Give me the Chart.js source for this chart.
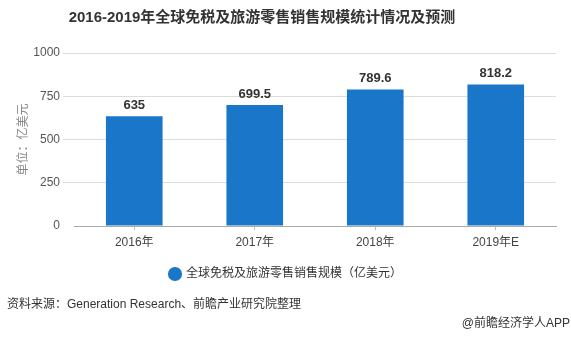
<!DOCTYPE html>
<html>
<head>
<meta charset="utf-8">
<script src="https://cdn.jsdelivr.net/npm/chart.js@4.4.1/dist/chart.umd.min.js"></script>
<style>
  html, body { margin: 0; padding: 0; background: #fff; }
  #wrap { position: relative; width: 571px; height: 337px; }
</style>
</head>
<body>
<div id="wrap"><canvas id="chart" width="571" height="337"></canvas></div>
<script>
// Chart data
const years = ['2016年', '2017年', '2018年', '2019年E'];
const salesValues = [635, 699.5, 789.6, 818.2];
const yTicks = [0, 250, 500, 750, 1000];

const seriesName = '全球免税及旅游零售销售规模（亿美元）';
const chartTitle = '2016-2019年全球免税及旅游零售销售规模统计情况及预测';
const sourceNote = '资料来源：Generation Research、前瞻产业研究院整理';
const brandNote = '@前瞻经济学人APP';

const FONT = '"Liberation Sans", "Noto Sans CJK SC", sans-serif';
const BAR_BLUE = '#1976c8';

// Draws title, bar value labels and footer notes
const decorPlugin = {
  id: 'decor',
  afterDraw(chart) {
    const ctx = chart.ctx;
    ctx.save();
    ctx.fillStyle = '#333';
    ctx.textBaseline = 'middle';

    ctx.font = 'bold 15px ' + FONT;
    ctx.textAlign = 'center';
    ctx.fillText(chartTitle, 262, 18);

    const meta = chart.getDatasetMeta(0);
    ctx.font = 'bold 13px ' + FONT;
    meta.data.forEach((bar, i) => {
      ctx.fillText(String(salesValues[i]), bar.x, bar.y - 11);
    });

    ctx.font = '12px ' + FONT;
    ctx.textAlign = 'left';
    ctx.fillText(sourceNote, 7, 305);
    ctx.textAlign = 'right';
    ctx.fillText(brandNote, 570, 324);
    ctx.restore();
  }
};

new Chart(document.getElementById('chart'), {
  type: 'bar',
  data: {
    labels: years,
    datasets: [{
      label: seriesName,
      data: salesValues,
      backgroundColor: BAR_BLUE,
      barPercentage: 0.47,
      categoryPercentage: 1.0
    }]
  },
  options: {
    responsive: false,
    animation: false,
    layout: { padding: { top: 53, left: 16, right: 15, bottom: 47 } },
    plugins: {
      legend: {
        position: 'bottom',
        labels: {
          usePointStyle: true,
          pointStyle: 'circle',
          boxWidth: 10,
          boxHeight: 10,
          padding: 10,
          color: '#333',
          font: { family: FONT, size: 12 }
        }
      },
      tooltip: { enabled: false },
      title: { display: false }
    },
    scales: {
      x: {
        grid: {
          offset: false,
          drawOnChartArea: false,
          tickLength: 4,
          color: '#bbb'
        },
        border: { color: '#aaa' },
        ticks: {
          color: '#444',
          padding: 5,
          font: { family: FONT, size: 12 }
        },
        afterFit(scale) { scale.height = 32; }
      },
      y: {
        min: 0,
        max: 1000,
        afterBuildTicks(scale) {
          scale.ticks = yTicks.map(v => ({ value: v }));
        },
        grid: {
          color: ctx => ctx.tick && ctx.tick.value === 0 ? 'rgba(0,0,0,0)' : '#dcdcdc',
          tickLength: 11
        },
        border: { display: false },
        ticks: {
          color: '#555',
          padding: 3,
          font: { family: FONT, size: 12 },
          callback: v => String(v)
        },
        title: {
          display: true,
          text: '单位：亿美元',
          color: '#888',
          padding: 0,
          font: { family: FONT, size: 12 }
        },
        afterFit(scale) { scale.width = 58; }
      }
    }
  },
  plugins: [decorPlugin]
});
</script>
</body>
</html>
